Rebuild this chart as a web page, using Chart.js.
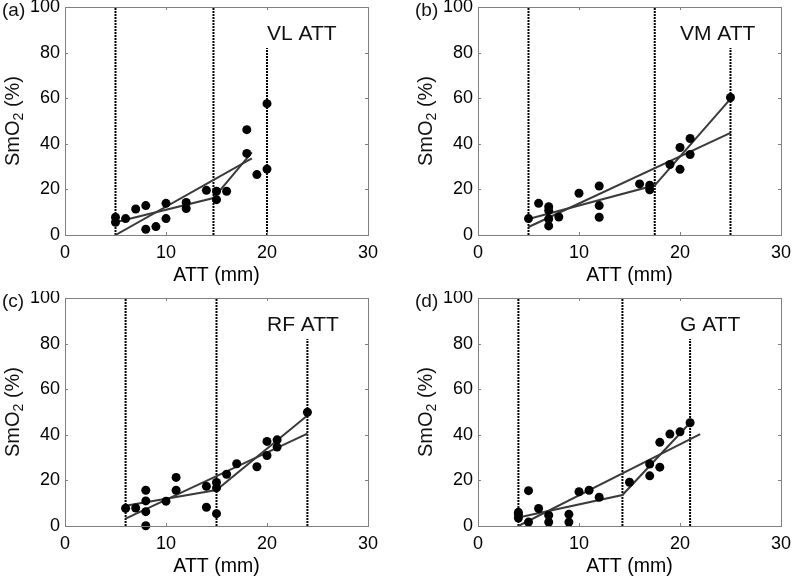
<!DOCTYPE html>
<html lang="en">
<head>
    <meta charset="UTF-8">
    <title>SmO2 vs ATT</title>
    <script src="https://cdn.jsdelivr.net/npm/chart.js"></script>
    <style>
        body {
            margin: 0;
            width: 792px;
            height: 579px;
            overflow: hidden;
            position: relative;
            background: #fff;
        }
        canvas {
            position: absolute;
        }
    </style>
</head>
<body>
    <canvas id="chartVL" width="396" height="290" style="left:0;top:0"></canvas>
    <canvas id="chartVM" width="396" height="290" style="left:413px;top:0"></canvas>
    <canvas id="chartRF" width="396" height="290" style="left:0;top:291px"></canvas>
    <canvas id="chartG" width="396" height="290" style="left:413px;top:291px"></canvas>

    <script>
        // axis ticks
        const xTicks = [0, 10, 20, 30];
        const yTicks = [0, 20, 40, 60, 80, 100];

        // (a) VL
        const vlAtt  = [5, 5, 6, 7, 8, 8, 9, 10, 10, 12, 12, 14, 15, 15, 16, 18, 18, 19, 20, 20];
        const vlSmo2 = [7.8, 5.6, 7.2, 11.4, 12.9, 2.5, 3.7, 13.9, 7.2, 14.3, 11.6, 19.6, 19.2, 15.5, 19.2, 46.2, 35.8, 26.5, 57.6, 28.9];
        const vlLinX = [5, 18.5];
        const vlLinY = [0, 33.6];
        const vlSegX = [5, 14.7, 18.5];
        const vlSegY = [5.6, 16.2, 36.2];
        const vlCuts = [5, 14.7, 20];

        // (b) VM
        const vmAtt  = [5, 6, 7, 7, 7, 7, 8, 10, 12, 12, 12, 16, 17, 17, 19, 20, 20, 21, 21, 25];
        const vmSmo2 = [7.2, 13.9, 12.4, 10.7, 7.0, 4.0, 7.9, 18.3, 21.5, 12.9, 7.8, 22.4, 21.8, 19.8, 30.9, 38.4, 28.8, 42.3, 35.3, 60.3];
        const vmLinX = [5, 25];
        const vmLinY = [3.5, 44.8];
        const vmSegX = [5, 17.5, 25];
        const vmSegY = [7.0, 21.8, 59.7];
        const vmCuts = [5, 17.5, 25];

        // (c) RF
        const rfAtt  = [6, 7, 8, 8, 8, 8, 10, 11, 11, 14, 14, 15, 15, 15, 16, 17, 19, 20, 20, 21, 21, 24];
        const rfSmo2 = [7.8, 7.9, 15.7, 11.0, 6.3, 0.1, 10.9, 21.3, 15.7, 17.4, 8.2, 19.1, 16.7, 5.4, 22.7, 27.3, 26.0, 37.1, 30.9, 37.8, 34.6, 49.9];
        const rfLinX = [6, 24];
        const rfLinY = [3.2, 40.5];
        const rfSegX = [6, 15, 24];
        const rfSegY = [8.9, 15.8, 48.5];
        const rfCuts = [6, 15, 24];

        // (d) G
        const gAtt  = [4, 4, 4, 5, 5, 6, 7, 7, 9, 9, 10, 11, 12, 15, 17, 17, 18, 18, 19, 20, 21];
        const gSmo2 = [6.0, 5.0, 3.5, 15.5, 1.7, 7.7, 4.7, 1.7, 5.1, 1.7, 15.0, 15.7, 12.6, 19.2, 27.2, 22.0, 36.7, 25.8, 40.3, 41.3, 45.3];
        const gLinX = [4, 22];
        const gLinY = [0, 40.3];
        const gSegX = [4, 14.3, 21];
        const gSegY = [3.7, 13.6, 45.3];
        const gCuts = [4, 14.3, 21];

        // top of the dotted cut lines (same in every panel)
        const cutTops = [100, 100, 82];

        const panels = [
            { id: 'chartVL', label: '(a)', name: 'VL ATT', att: vlAtt, smo2: vlSmo2, linX: vlLinX, linY: vlLinY, segX: vlSegX, segY: vlSegY, cuts: vlCuts },
            { id: 'chartVM', label: '(b)', name: 'VM ATT', att: vmAtt, smo2: vmSmo2, linX: vmLinX, linY: vmLinY, segX: vmSegX, segY: vmSegY, cuts: vmCuts },
            { id: 'chartRF', label: '(c)', name: 'RF ATT', att: rfAtt, smo2: rfSmo2, linX: rfLinX, linY: rfLinY, segX: rfSegX, segY: rfSegY, cuts: rfCuts },
            { id: 'chartG',  label: '(d)', name: 'G ATT',  att: gAtt,  smo2: gSmo2,  linX: gLinX,  linY: gLinY,  segX: gSegX,  segY: gSegY,  cuts: gCuts }
        ];

        const FONT = "'Liberation Sans', Arial, sans-serif";
        Chart.defaults.font.family = FONT;
        Chart.defaults.color = '#000';

        function toPoints(xs, ys) {
            return xs.map((x, i) => ({ x: x, y: ys[i] }));
        }

        // matlab style box with inward ticks, panel letter, panel name and y title
        const matlabBox = {
            id: 'matlabBox',
            afterDraw(chart, args, opts) {
                const { ctx, chartArea: a, scales: { x, y } } = chart;
                ctx.save();
                ctx.strokeStyle = '#808080';
                ctx.lineWidth = 1;
                ctx.strokeRect(Math.round(a.left) + 0.5, Math.round(a.top) + 0.5,
                    Math.round(a.right - a.left), Math.round(a.bottom - a.top));
                ctx.beginPath();
                x.ticks.forEach(t => {
                    const px = Math.round(x.getPixelForValue(t.value)) + 0.5;
                    ctx.moveTo(px, a.bottom); ctx.lineTo(px, a.bottom - 3);
                    ctx.moveTo(px, a.top); ctx.lineTo(px, a.top + 3);
                });
                y.ticks.forEach(t => {
                    const py = Math.round(y.getPixelForValue(t.value)) + 0.5;
                    ctx.moveTo(a.left, py); ctx.lineTo(a.left + 3, py);
                    ctx.moveTo(a.right, py); ctx.lineTo(a.right - 3, py);
                });
                ctx.stroke();

                ctx.fillStyle = '#111';
                ctx.textBaseline = 'alphabetic';
                ctx.textAlign = 'left';
                ctx.font = '19px ' + FONT;
                ctx.fillText(opts.label, a.left - 63, a.top + 9);
                ctx.font = '21px ' + FONT;
                ctx.fillText(opts.name, x.getPixelForValue(20), a.top + 33);

                // y title SmO2 (%) with a real subscript, rotated
                const big = '20px ' + FONT, small = '14px ' + FONT;
                ctx.font = big;
                const w1 = ctx.measureText('SmO').width;
                const w3 = ctx.measureText(' (%)').width;
                ctx.font = small;
                const w2 = ctx.measureText('2').width;
                const total = w1 + w2 + w3;
                ctx.translate(a.left - 53, (a.top + a.bottom) / 2);
                ctx.rotate(-Math.PI / 2);
                let pos = -total / 2;
                ctx.font = big;
                ctx.fillText('SmO', pos, 7);
                pos += w1;
                ctx.font = small;
                ctx.fillText('2', pos, 11);
                pos += w2;
                ctx.font = big;
                ctx.fillText(' (%)', pos, 7);
                ctx.restore();
            }
        };

        panels.forEach(p => {
            const datasets = [];
            datasets.push({
                data: toPoints(p.att, p.smo2),
                showLine: false,
                pointRadius: 4.5,
                pointHoverRadius: 4.5,
                backgroundColor: '#000',
                borderWidth: 0,
                clip: false
            });
            datasets.push({
                data: toPoints(p.linX, p.linY),
                showLine: true,
                borderColor: '#3a3a3a',
                borderWidth: 2,
                pointRadius: 0
            });
            datasets.push({
                data: toPoints(p.segX, p.segY),
                showLine: true,
                borderColor: '#3a3a3a',
                borderWidth: 2,
                pointRadius: 0
            });
            p.cuts.forEach((c, i) => {
                datasets.push({
                    data: toPoints([c, c], [0, cutTops[i]]),
                    showLine: true,
                    borderColor: '#000',
                    borderWidth: 2,
                    borderDash: [2, 1],
                    pointRadius: 0,
                    clip: false
                });
            });

            new Chart(document.getElementById(p.id), {
                type: 'scatter',
                data: { datasets: datasets },
                plugins: [matlabBox],
                options: {
                    responsive: false,
                    animation: false,
                    events: [],
                    layout: { padding: { left: 0, top: 7, right: 28, bottom: 0 } },
                    plugins: {
                        legend: { display: false },
                        tooltip: { enabled: false },
                        matlabBox: { label: p.label, name: p.name }
                    },
                    scales: {
                        x: {
                            min: 0,
                            max: 30,
                            afterBuildTicks: s => { s.ticks = xTicks.map(v => ({ value: v })); },
                            grid: { display: false, drawTicks: false },
                            border: { display: false },
                            ticks: { padding: 7, font: { size: 18 }, color: '#000', maxRotation: 0 },
                            title: { display: true, text: 'ATT (mm)', font: { size: 19.5 }, padding: { top: 0, bottom: 3 } },
                            afterFit: s => { s.height = 55; s.paddingLeft = 0; s.paddingRight = 0; }
                        },
                        y: {
                            min: 0,
                            max: 100,
                            afterBuildTicks: s => { s.ticks = yTicks.map(v => ({ value: v })); },
                            grid: { display: false, drawTicks: false },
                            border: { display: false },
                            ticks: { padding: 5, font: { size: 18 }, color: '#000' },
                            afterFit: s => { s.width = 65; s.paddingTop = 0; s.paddingBottom = 0; }
                        }
                    }
                }
            });
        });
    </script>
</body>
</html>
